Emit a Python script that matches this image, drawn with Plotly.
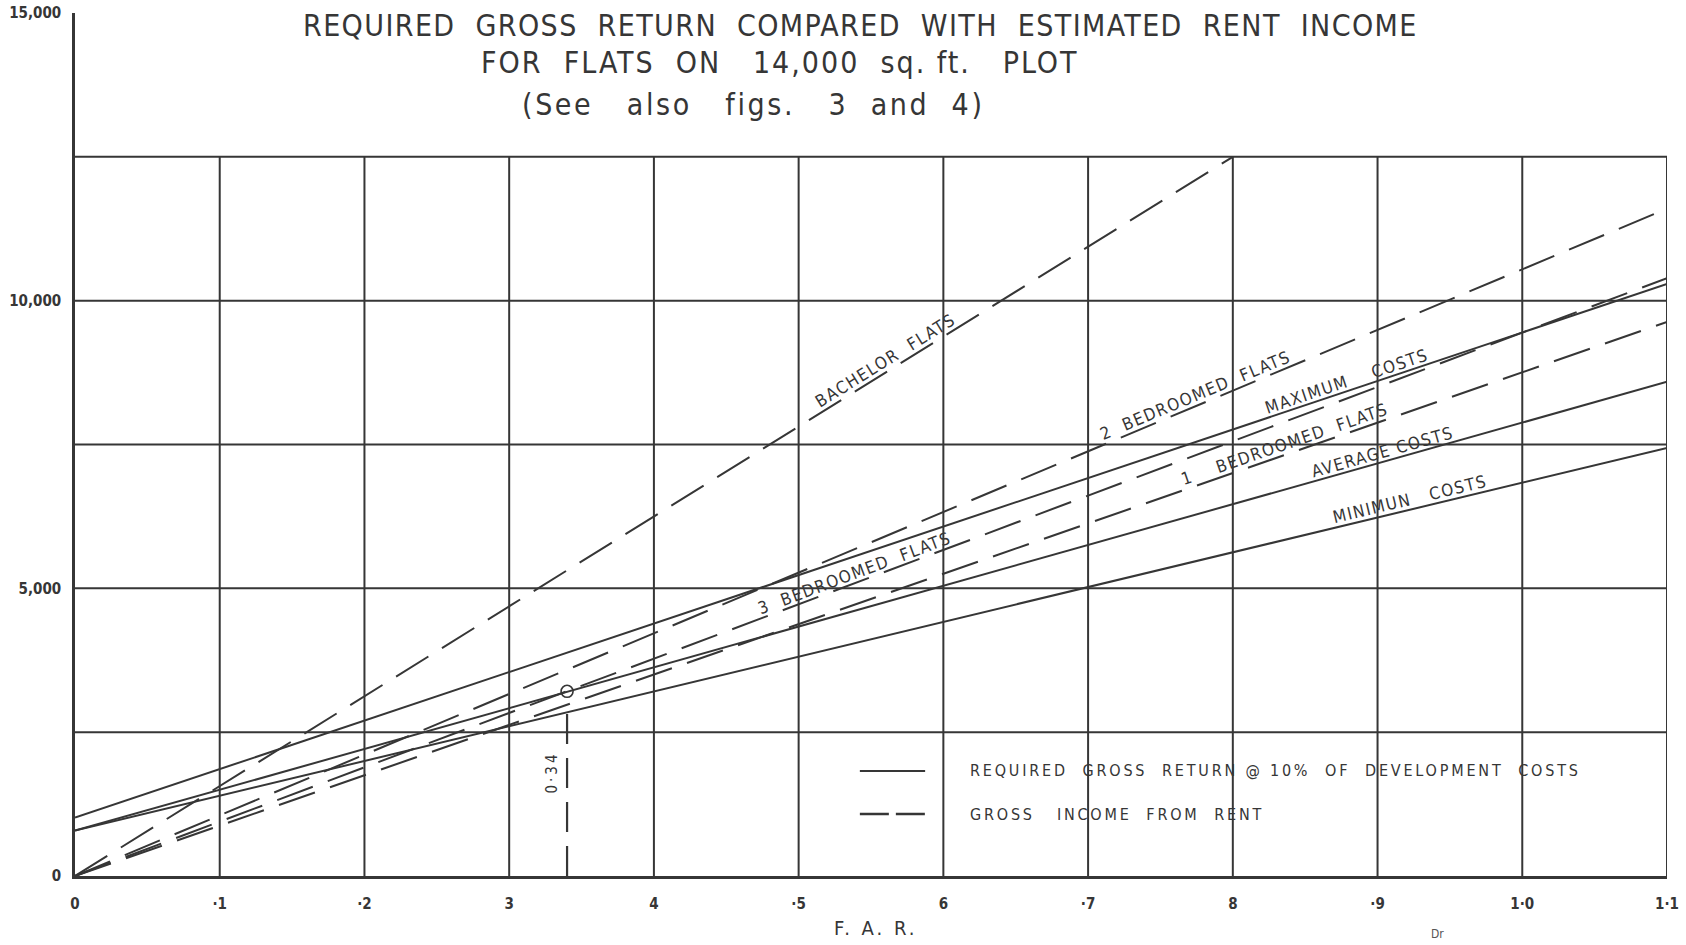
import math
import numpy as np
import plotly.graph_objects as go

# ---- data -------------------------------------------------------------
far_ends = [0.0, 1.1]            # F.A.R. at the ends of each straight line

# Required gross return @ 10% of development costs (solid)
max_costs = [1015, 10290]
avg_costs = [790, 8590]
min_costs = [790, 7440]

# Gross income from rent (dashed)
bachelor_far = [0.0, 0.8]
bachelor_flats = [0, 12500]
two_bed_flats = [0, 11600]
three_bed_flats = [0, 10390]
one_bed_flats = [0, 9630]

# break-even point of 3 bedroomed flats against average costs
break_even_far = 0.34
break_even_value = 3210

x_tick_vals = [0, 0.1, 0.2, 0.3, 0.4, 0.5, 0.6, 0.7, 0.8, 0.9, 1.0, 1.1]
x_tick_text = ["0", "·1", "·2", "3", "4", "·5", "6", "·7", "8", "·9", "1·0", "1·1"]
y_tick_vals = [0, 5000, 10000, 15000]
y_tick_text = ["0", "5,000", "10,000", "15,000"]
x_grid = [0.1, 0.2, 0.3, 0.4, 0.5, 0.6, 0.7, 0.8, 0.9, 1.0, 1.1]
y_grid = [2500, 5000, 7500, 10000, 12500]
grid_top = 12500

# ---- layout constants ---------------------------------------------------
W, H = 1686, 945
ML, MR, MT, MB = 75, 19, 13, 69
X_MAX, Y_MAX = 1.1, 15000
px_x = (W - ML - MR) / X_MAX
px_y = (H - MT - MB) / Y_MAX

INK = "#363636"
FONT = "DejaVu Sans Condensed, Liberation Sans Narrow, DejaVu Sans, sans-serif"
DASH = "38px,16px"

fig = go.Figure()

for ys in [max_costs, avg_costs, min_costs]:
    fig.add_trace(go.Scatter(x=far_ends, y=ys, mode="lines",
                             line=dict(color=INK, width=2), hoverinfo="skip"))

fig.add_trace(go.Scatter(x=bachelor_far, y=bachelor_flats, mode="lines",
                         line=dict(color=INK, width=2, dash=DASH), hoverinfo="skip"))
for ys in [two_bed_flats, three_bed_flats, one_bed_flats]:
    fig.add_trace(go.Scatter(x=far_ends, y=ys, mode="lines",
                             line=dict(color=INK, width=2, dash=DASH), hoverinfo="skip"))

# break-even marker and drop line
fig.add_trace(go.Scatter(x=[break_even_far, break_even_far], y=[0, break_even_value - 250],
                         mode="lines", line=dict(color=INK, width=2.2, dash="30px,14px"),
                         hoverinfo="skip"))
fig.add_trace(go.Scatter(x=[break_even_far], y=[break_even_value], mode="markers",
                         marker=dict(symbol="circle-open", size=12, color=INK,
                                     line=dict(width=1.6, color=INK)),
                         hoverinfo="skip"))

# ---- grid -----------------------------------------------------------------
shapes = []
for gx in x_grid:
    shapes.append(dict(type="line", xref="x", yref="y", x0=gx, x1=gx, y0=0, y1=grid_top,
                       line=dict(color=INK, width=2), layer="below"))
for gy in y_grid:
    shapes.append(dict(type="line", xref="x", yref="y", x0=0, x1=X_MAX, y0=gy, y1=gy,
                       line=dict(color=INK, width=2), layer="below"))

# legend samples
shapes.append(dict(type="line", xref="paper", yref="paper", x0=0.493, x1=0.534,
                   y0=0.1217, y1=0.1217, line=dict(color=INK, width=2)))
shapes.append(dict(type="line", xref="paper", yref="paper", x0=0.493, x1=0.534,
                   y0=0.0718, y1=0.0718, line=dict(color=INK, width=2.4, dash="29px,7px")))


def spaced(text, ls):
    return f'<span style="letter-spacing:{ls}px">{text}</span>'


def line_label(text, far, xs, ys, size=17, d=10, ls=1.5):
    y = float(np.interp(far, xs, ys))
    slope = (ys[1] - ys[0]) / (xs[1] - xs[0]) * px_y / px_x
    th = math.atan(slope)
    return dict(x=far, y=y, xref="x", yref="y", text=spaced(text, ls),
                textangle=-math.degrees(th), showarrow=False,
                xanchor="center", yanchor="middle",
                xshift=-d * math.sin(th), yshift=d * math.cos(th),
                font=dict(family=FONT, size=size, color=INK))


annotations = [
    line_label("BACHELOR  FLATS", 0.564, bachelor_far, bachelor_flats),
    line_label("2  BEDROOMED  FLATS", 0.777, far_ends, two_bed_flats),
    line_label("MAXIMUM    COSTS", 0.881, far_ends, max_costs),
    line_label("1    BEDROOMED  FLATS", 0.838, far_ends, one_bed_flats),
    line_label("AVERAGE COSTS", 0.905, far_ends, avg_costs),
    line_label("MINIMUN   COSTS", 0.924, far_ends, min_costs),
    line_label("3  BEDROOMED  FLATS", 0.541, far_ends, three_bed_flats),
]

# break-even value beside its drop line
annotations.append(dict(x=break_even_far, y=1800, xref="x", yref="y",
                        text=spaced("0·34", 3),
                        textangle=-90, showarrow=False, xshift=-15,
                        xanchor="center", yanchor="middle",
                        font=dict(family=FONT, size=15, color=INK)))


def paper_text(x, y, text, font, xanchor="center"):
    return dict(x=x, y=y, xref="paper", yref="paper", showarrow=False, text=text,
                xanchor=xanchor, yanchor="middle", font=font)


# title block
title_font = dict(family=FONT, size=30, color=INK)
annotations += [
    paper_text(0.4937, 0.9850,
               spaced("REQUIRED  GROSS  RETURN  COMPARED  WITH  ESTIMATED  RENT  INCOME", 1.4),
               title_font),
    paper_text(0.4428, 0.9430, spaced("FOR  FLATS  ON   14,000  sq. ft.   PLOT", 2.0), title_font),
    paper_text(0.4259, 0.8934, spaced("(See   also   figs.   3  and  4)", 2.6), title_font),
]

# legend text
legend_font = dict(family=FONT, size=16, color=INK)
annotations += [
    paper_text(0.561, 0.1217,
               spaced("REQUIRED  GROSS  RETURN @ 10%  OF  DEVELOPMENT  COSTS", 2.8),
               legend_font, xanchor="left"),
    paper_text(0.561, 0.0718, spaced("GROSS   INCOME  FROM  RENT", 2.8),
               legend_font, xanchor="left"),
]

# axis title and corner mark
annotations += [
    paper_text(0.503, -0.060, spaced("F. A. R.", 3), dict(family=FONT, size=20, color=INK)),
    paper_text(0.856, -0.067, "Dr", dict(family=FONT, size=12, color="#555555")),
]

fig.update_layout(
    width=W, height=H,
    margin=dict(l=ML, r=MR, t=MT, b=MB, pad=0, autoexpand=False),
    paper_bgcolor="white", plot_bgcolor="white",
    showlegend=False,
    shapes=shapes,
    annotations=annotations,
    xaxis=dict(range=[0, X_MAX], showgrid=False, zeroline=False, automargin=False,
               showline=True, linecolor=INK, linewidth=2.5, mirror=False,
               tickvals=x_tick_vals, ticktext=x_tick_text, ticks="",
               ticklabelstandoff=12,
               tickfont=dict(family=FONT, size=15, color=INK, weight="bold")),
    yaxis=dict(range=[0, Y_MAX], showgrid=False, zeroline=False, automargin=False,
               showline=True, linecolor=INK, linewidth=2.5,
               tickvals=y_tick_vals, ticktext=y_tick_text, ticks="",
               ticklabelstandoff=8,
               tickfont=dict(family=FONT, size=15, color=INK, weight="bold")),
)

fig.write_html("out.html")
